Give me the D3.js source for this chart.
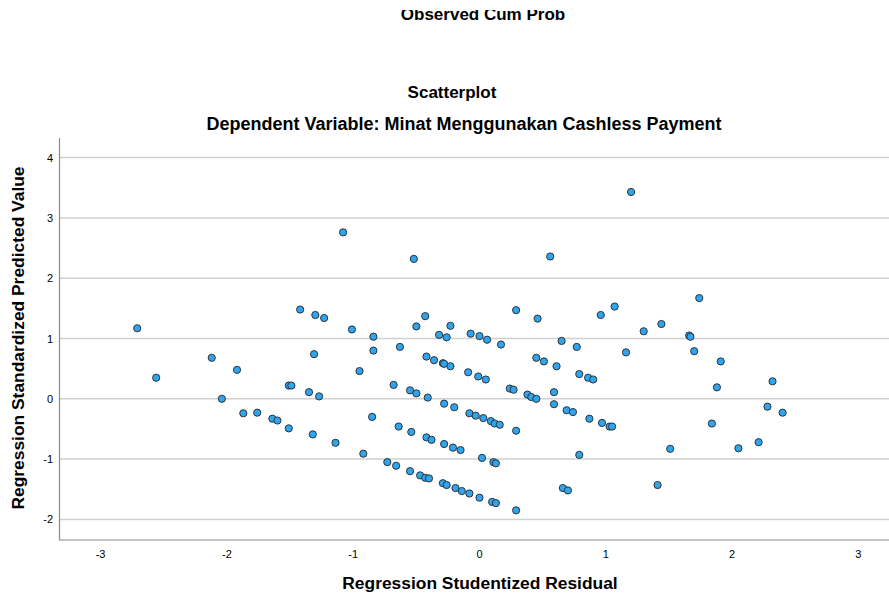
<!DOCTYPE html>
<html lang="en">
<head>
    <meta charset="UTF-8">
    <title>Scatterplot</title>
    <script src="https://d3js.org/d3.v7.min.js"></script>
    <style>
        body {
            margin: 0;
            padding: 0;
            background: #fff;
            font-family: Arial, "Liberation Sans", Helvetica, sans-serif;
        }

        svg text {
            fill: #000;
        }
    </style>
</head>
<body>
    <svg id="vis"></svg>
    <script>
        const width = 889;
        const height = 594;

        // regression studentized residual (x) and standardized predicted value (y)
        const residuals = [
            -2.71, -2.56, -2.12, -2.04, -1.92, -1.87, -1.76, -1.64, -1.60, -1.51,
            -1.51, -1.49, -1.42, -1.30, -1.23, -1.31, -1.35, -1.27, -1.32, -1.14,
            -1.08, -1.01, -0.95, -0.92, -0.84, -0.84, -0.85, -0.73, -0.66, -0.68,
            -0.63, -0.64, -0.55, -0.50, -0.54, -0.55, -0.52, -0.50, -0.43, -0.47,
            -0.43, -0.40, -0.42, -0.41, -0.42, -0.38, -0.36, -0.32, -0.26, -0.29,
            -0.28, -0.23, -0.23, -0.28, -0.20, -0.28, -0.21, -0.15, -0.29, -0.26,
            -0.19, -0.14, -0.08, 0.00, -0.09, -0.07, 0.00, 0.06, -0.01, 0.05,
            -0.08, -0.03, 0.03, 0.09, 0.12, 0.16, 0.02, 0.11, 0.13, 0.10,
            0.13, 0.29, 0.17, 0.29, 0.24, 0.27, 0.29, 0.38, 0.41, 0.45,
            0.45, 0.46, 0.51, 0.56, 0.59, 0.59, 0.61, 0.65, 0.69, 0.74,
            0.66, 0.70, 0.77, 0.79, 0.79, 0.86, 0.90, 0.87, 0.96, 0.97,
            1.03, 1.05, 1.07, 1.16, 1.20, 1.30, 1.41, 1.44, 1.51, 1.66,
            1.67, 1.70, 1.74, 1.84, 1.88, 1.91, 2.05, 2.21, 2.28, 2.32,
            2.40
        ];
        const predicted = [
            1.17, 0.35, 0.68, 0.00, 0.48, -0.24, -0.23, -0.33, -0.36, -0.49,
            0.22, 0.22, 1.48, 1.39, 1.34, 0.74, 0.11, 0.04, -0.59, -0.73,
            2.76, 1.15, 0.46, -0.91, 1.03, 0.80, -0.30, -1.05, -1.11, 0.23,
            0.86, -0.46, 0.14, 0.09, -0.55, -1.20, 2.32, 1.20, 1.37, -1.27,
            -1.31, -1.32, 0.70, 0.02, -0.64, -0.68, 0.64, 1.06, 1.02, 0.59,
            0.58, 1.21, 0.54, -0.08, -0.14, -0.75, -0.81, -0.85, -1.40, -1.43,
            -1.48, -1.53, -1.57, -1.64, 0.44, 1.08, 1.04, 0.98, 0.37, 0.32,
            -0.24, -0.28, -0.32, -0.37, -0.41, -0.43, -0.98, -1.05, -1.07, -1.71,
            -1.73, -1.85, 0.90, 1.47, 0.17, 0.15, -0.53, 0.07, 0.03, 0.00,
            0.68, 1.33, 0.62, 2.36, 0.11, -0.09, 0.54, 0.96, -0.19, -0.22,
            -1.48, -1.52, 0.86, 0.41, -0.93, 0.35, 0.32, -0.33, 1.39, -0.40,
            -0.46, -0.46, 1.53, 0.77, 3.43, 1.12, -1.43, 1.24, -0.83, 1.05,
            1.03, 0.79, 1.67, -0.41, 0.19, 0.62, -0.82, -0.72, -0.13, 0.29,
            -0.23
        ];
        const xTicks = [-3, -2, -1, 0, 1, 2, 3];
        const yTicks = [-2, -1, 0, 1, 2, 3, 4];

        const svg = d3.select("#vis")
            .attr("width", width)
            .attr("height", height);

        const plot = { left: 59.5, top: 138, right: 889, bottom: 540 };

        const x = d3.scaleLinear().domain([-3, 3]).range([100.6, 858.4]);
        const y = d3.scaleLinear().domain([-2, 4]).range([519.4, 157.6]);

        // horizontal grid lines
        svg.append("g")
            .selectAll("line")
            .data(yTicks)
            .join("line")
            .attr("x1", plot.left)
            .attr("x2", plot.right)
            .attr("y1", d => y(d))
            .attr("y2", d => y(d))
            .attr("stroke", "#d0d0d0")
            .attr("stroke-width", 1.5);

        // axis frame (left + bottom only)
        svg.append("path")
            .attr("d", `M${plot.left},${plot.top}V${plot.bottom}H${plot.right}`)
            .attr("fill", "none")
            .attr("stroke", "#8a8a8a")
            .attr("stroke-width", 1.2);

        // tick labels
        svg.append("g")
            .selectAll("text")
            .data(yTicks)
            .join("text")
            .attr("x", 53)
            .attr("y", d => y(d) + 4)
            .attr("text-anchor", "end")
            .style("font-size", "11px")
            .text(d => d);

        svg.append("g")
            .selectAll("text")
            .data(xTicks)
            .join("text")
            .attr("x", d => x(d))
            .attr("y", 558)
            .attr("text-anchor", "middle")
            .style("font-size", "11px")
            .text(d => d);

        // points
        svg.append("g")
            .selectAll("circle")
            .data(residuals.map((r, i) => [r, predicted[i]]))
            .join("circle")
            .attr("cx", d => x(d[0]))
            .attr("cy", d => y(d[1]))
            .attr("r", 3.6)
            .attr("fill", "#30a5ee")
            .attr("stroke", "#2a343b")
            .attr("stroke-width", 1);

        // titles
        svg.append("text")
            .attr("x", 483)
            .attr("y", 20)
            .attr("text-anchor", "middle")
            .style("font-size", "17px")
            .style("font-weight", "bold")
            .text("Observed Cum Prob");
        // the previous chart's label is cut off at the top
        svg.append("rect")
            .attr("x", 0).attr("y", 0)
            .attr("width", width).attr("height", 10)
            .attr("fill", "#fff");

        svg.append("text")
            .attr("x", 452)
            .attr("y", 98)
            .attr("text-anchor", "middle")
            .style("font-size", "17px")
            .style("font-weight", "bold")
            .text("Scatterplot");

        svg.append("text")
            .attr("x", 464)
            .attr("y", 130)
            .attr("text-anchor", "middle")
            .style("font-size", "18px")
            .style("font-weight", "bold")
            .text("Dependent Variable: Minat Menggunakan Cashless Payment");

        svg.append("text")
            .attr("x", 480)
            .attr("y", 589)
            .attr("text-anchor", "middle")
            .style("font-size", "17.4px")
            .style("font-weight", "bold")
            .text("Regression Studentized Residual");

        svg.append("text")
            .attr("transform", "translate(24,338) rotate(-90)")
            .attr("text-anchor", "middle")
            .style("font-size", "17.4px")
            .style("font-weight", "bold")
            .text("Regression Standardized Predicted Value");
    </script>
</body>
</html>
